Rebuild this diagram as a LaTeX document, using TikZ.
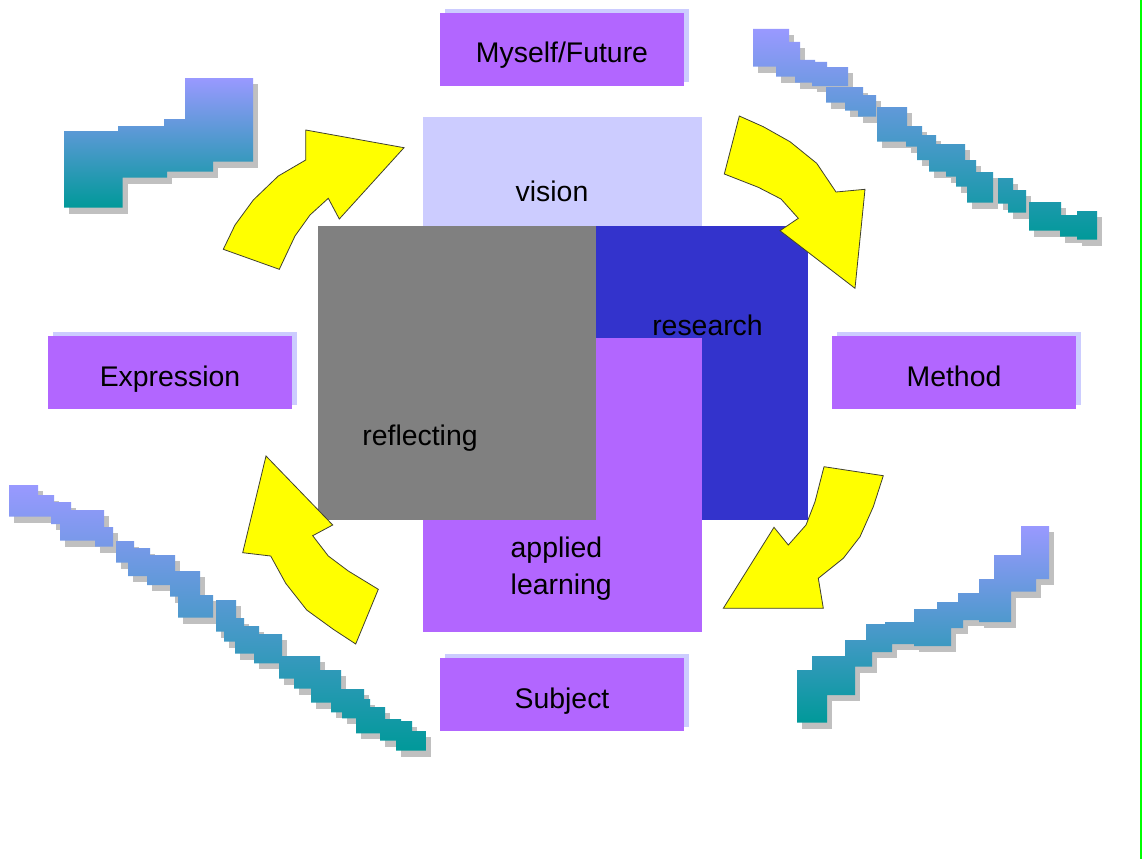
\documentclass[tikz,border=0pt]{standalone}
\usepackage{fontspec}
\setmainfont{Liberation Sans}
\usetikzlibrary{shadows}

\definecolor{boxpurple}{RGB}{178,102,255}
\definecolor{boxshade}{RGB}{204,204,255}
\definecolor{resblue}{RGB}{51,51,204}
\definecolor{refgray}{RGB}{128,128,128}
\definecolor{stairtop}{RGB}{153,153,255}
\definecolor{stairmid}{RGB}{118,150,226}
\definecolor{stairbot}{RGB}{0,153,153}
\definecolor{stairshadow}{RGB}{192,192,192}
\definecolor{arrowfill}{RGB}{255,255,0}
\definecolor{arrowedge}{RGB}{64,64,48}
\definecolor{edgegreen}{RGB}{0,255,0}

% a stepped band: gray offset shadow, then the pieces filled with one vertical gradient
% #1 = list of rectangles x1/y1/x2/y2, #2 = top of gradient, #3 = bottom of gradient
\newcommand{\stairrun}[3]{%
  \foreach \xa/\ya/\xb/\yb in {#1} {\fill[stairshadow] (\xa+5,\ya+6) rectangle (\xb+5,\yb+6);}
  \begin{scope}
    \clip foreach \xa/\ya/\xb/\yb in {#1} {(\xa,\ya) rectangle (\xb,\yb)};
    \shade[top color=stairtop, middle color=stairmid, bottom color=stairbot] (0,#2) rectangle (1142,#3);
  \end{scope}}

\begin{document}
\begin{tikzpicture}[x=1pt,y=-1pt,
  every node/.style={font=\fontsize{28.4}{37}\selectfont, inner sep=0pt},
  labelbox/.style={fill=boxpurple, minimum width=244pt, minimum height=73pt,
    text height=30pt, text depth=3pt,
    copy shadow={shadow xshift=5pt, shadow yshift=4pt, fill=boxshade, draw=none}},
  word/.style={anchor=base},
  turn/.style={fill=arrowfill, draw=arrowedge, line width=0.8pt, line join=miter},
]
\useasboundingbox[fill=white] (0,0) rectangle (1142,859);

% stepped bands in the four corners
\stairrun{64/131/122.7/207.7, 118/126/167/177.7, 164/119/213/171.7, 185/78/253/161.7}{78}{208}
\stairrun{753/29/789/66.7, 776/42/800/76.7, 795/60/815/82.7, 812/62/827/86, 827/67/848/86,
  826/87/863/102.7, 845/95/876/110.7, 858/95/876/116.7, 877/107/907/141.7, 906/126/922/146.7,
  917/135/936/160, 929/144/965/171.7, 946/160/976/176.7, 956/172/993/186.7, 967/172/993/202.7,
  998/178/1013/203.7, 1008/190/1026/212.7, 1029/202/1061/230.7, 1060/215/1080/236.7,
  1077/211/1097/239.7}{29}{240}
\stairrun{9/485/38/516.7, 35/495/54/516.7, 51/502/71/524, 60/510/104/540.7, 95/527/113/546.7,
  116/541/134/562.7, 128/548/150/576, 147/555/175/585, 170/571/200/596.7, 178/595/213/617.7,
  216/600/236/631.7, 224/618/244/641.7, 235/626/259/653.7, 254/634/282/663.3, 279/656/320/678.7,
  294/670/341/688.7, 311/670/341/702.7, 331/689/364/712.3, 342/699/370/718.3, 356/707/385/733.3,
  365/719/401/733.3, 380/721/412/740.7, 396/731/426/750.7}{485}{751}
\stairrun{797/670/827/722.7, 812/656/855/695, 845/640/872/666.7, 866/624/892/652, 885/622/914/644,
  914/609/951/646, 937/602/963/628, 958/593/979/620, 979/579/1011/622, 994/555/1036/591.7,
  1021/526/1049/579}{526}{723}

% central overlapping squares
\fill[boxshade] (423,117) rectangle (702,226);
\fill[resblue] (596,226) rectangle (808,520);
\node[word] (research) at (707.5,335.5) {research};
\fill[boxpurple] (423,338) rectangle (702,632);
\fill[refgray] (318,226) rectangle (596,520);
\node[word] (vision) at (552,201.5) {vision};
\node[word] (reflecting) at (420,445.5) {reflecting};
\node[anchor=north west, align=left] (applied) at (510.5,537) {applied\\learning};

% curved arrows of the cycle
\draw[turn] (223.3,249.3) -- (279.3,269.3) -- (295,236) -- (310,215) -- (328.3,198.3)
  -- (339.3,219) -- (404,147.7) -- (305.7,130) -- (305.7,160) -- (278.3,176)
  -- (253.3,200) -- (235,225) -- cycle;
\draw[turn] (739.3,116) -- (763.3,126.7) -- (790,141.7) -- (816.7,163.3) -- (836,192)
  -- (865,189.3) -- (855,288.3) -- (780,230.7) -- (798.3,218.3) -- (781,199)
  -- (758.3,187.3) -- (724.3,174) -- cycle;
\draw[turn] (824,466.7) -- (883.3,475.7) -- (873.3,506.7) -- (860,536.7) -- (843.3,558.3)
  -- (818.3,578.3) -- (823.3,608.3) -- (723.3,608.3) -- (774,527.3) -- (788.3,545)
  -- (806,525) -- (815,501.7) -- cycle;
\draw[turn] (266,456) -- (332.7,525) -- (312.7,535.7) -- (328.3,556) -- (348.3,571)
  -- (378.3,589.3) -- (355.7,644) -- (333.3,629.3) -- (306.7,610) -- (285.7,583.3)
  -- (270.7,556) -- (242.7,552.7) -- cycle;

% outer labels
\node[labelbox] (myself) at (562,49.5) {Myself/Future};
\node[labelbox] (expression) at (170,372.5) {Expression};
\node[labelbox] (method) at (954,372.5) {Method};
\node[labelbox] (subject) at (562,694.5) {Subject};

% right edge rule
\draw[edgegreen, line width=2pt] (1140.5,0) -- (1140.5,859);
\end{tikzpicture}
\end{document}
